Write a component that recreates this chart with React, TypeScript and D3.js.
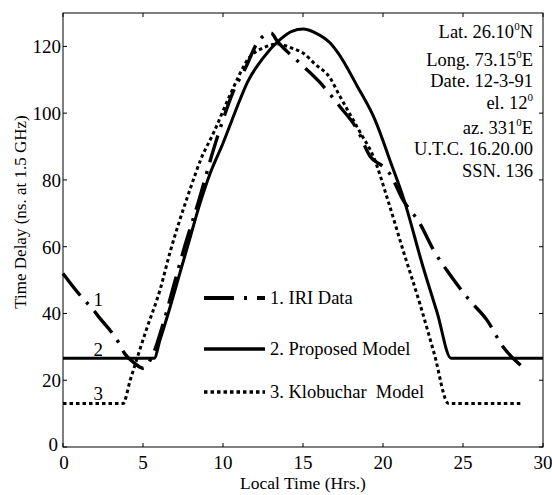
import * as d3 from "d3";

// hours, ns
const iriData: [number, number][] = [
  [0, 52], [1.15, 45], [1.8, 41.6], [2.3, 38.6], [3.45, 31.5], [3.85, 28], [4.5, 25], [5, 23.6],
  [5.6, 27.5], [6.2, 36], [6.9, 48], [7.6, 60], [8.5, 74], [9.4, 89], [10, 98], [10.6, 106],
  [11.4, 113.5], [12.2, 121.5], [13, 124], [13.4, 121.5], [14, 118.5], [14.8, 115], [16, 109.5],
  [17.3, 102], [18.4, 95], [19.2, 87], [20, 84], [20.4, 82], [21.25, 74], [22.3, 67], [23.1, 59.5],
  [24.2, 51.5], [25.4, 44], [26.5, 38], [27.5, 30], [28.6, 24.5],
];

const proposedData: [number, number][] = [
  [0, 26.6], [5.7, 26.6], [6.06, 32], [6.7, 42], [7.3, 52], [7.9, 62], [8.5, 72], [9.2, 82],
  [10, 91], [11.06, 104], [11.5, 109], [12.5, 116.5], [13.56, 122], [14.3, 124.5], [15, 125.2],
  [15.8, 124], [16.7, 121], [17.2, 118], [18.4, 108], [19.5, 98], [20.5, 85], [21.25, 75],
  [22.5, 54], [23.4, 40], [24.25, 26.6], [30, 26.6],
];

const klobucharData: [number, number][] = [
  [0, 13], [3.75, 13], [4.2, 20], [5.2, 35], [6.06, 47], [6.7, 58.5], [7.3, 68], [8, 78],
  [8.6, 86], [9.4, 94], [10.4, 105], [11.7, 117], [12.5, 119.5], [13.4, 120.7], [14.3, 119.5],
  [15, 118], [15.8, 114.5], [16.7, 110.5], [17.2, 106], [18.6, 94], [19.4, 87], [20.3, 74],
  [21.25, 59], [22.3, 43], [23.2, 28], [24.1, 13], [28.75, 13],
];

const xTicks = [0, 5, 10, 15, 20, 25, 30];
const yTicks = [0, 20, 40, 60, 80, 100, 120];

const legendLabels = ["1. IRI Data", "2. Proposed Model", "3. Klobuchar\u00A0 Model"];
const curveNumbers = ["1", "2", "3"];
const curveNumberPos: [number, number][] = [[2.2, 44], [2.2, 29], [2.2, 16]];

const infoLines = [
  ["Lat. 26.10", "0", "N"],
  ["Long. 73.15", "0", "E"],
  ["Date. 12-3-91", "", ""],
  ["el. 12", "0", ""],
  ["az. 331", "0", "E"],
  ["U.T.C. 16.20.00", "", ""],
  ["SSN. 136", "", ""],
];
const infoBaselines = [38, 66, 87, 109, 134, 155, 177];

const W = 552;
const H = 495;
const margin = { left: 63, right: 9, top: 13, bottom: 48 };
const font = "'Liberation Serif', 'Times New Roman', serif";

const styles = [
  { width: 3.4, dash: "28 9 3 9" },
  { width: 3, dash: null as string | null },
  { width: 3, dash: "3.5 3" },
];

export default function App() {
  const x = d3.scaleLinear().domain([0, 30]).range([margin.left, W - margin.right]);
  const y = d3.scaleLinear().domain([0, 130]).range([H - margin.bottom, margin.top]);

  const line = d3
    .line<[number, number]>()
    .x((d) => x(d[0]))
    .y((d) => y(d[1]))
    .curve(d3.curveMonotoneX);

  const series = [iriData, proposedData, klobucharData];
  const x0 = x(0), x1 = x(30), y0 = y(0), y1 = y(130);

  return (
    <svg
      width={W}
      height={H}
      style={{ position: "absolute", left: 0, top: 0, background: "#fff" }}
      fontFamily={font}
    >
      {/* frame */}
      <rect x={x0} y={y1} width={x1 - x0} height={y0 - y1} fill="none" stroke="#000" strokeWidth={1} />

      {/* ticks, inside on all sides */}
      {xTicks.map((t) => (
        <g key={"xt" + t}>
          <line x1={x(t)} x2={x(t)} y1={y0} y2={y0 - 4} stroke="#000" />
          <line x1={x(t)} x2={x(t)} y1={y1} y2={y1 + 4} stroke="#000" />
          <text x={x(t) + (t === 0 ? 1 : 0)} y={y0 + 22} textAnchor="middle" fontSize={19}>
            {t}
          </text>
        </g>
      ))}
      {yTicks.map((t) => (
        <g key={"yt" + t}>
          <line x1={x0} x2={x0 + 4} y1={y(t)} y2={y(t)} stroke="#000" />
          <line x1={x1} x2={x1 - 4} y1={y(t)} y2={y(t)} stroke="#000" />
          <text x={x0 - (t === 0 ? 5 : 2)} y={y(t) + (t === 0 ? 4 : 7)} textAnchor="end" fontSize={19}>
            {t}
          </text>
        </g>
      ))}

      {/* axis titles */}
      <text x={(x0 + x1) / 2} y={H - 6} textAnchor="middle" fontSize={17.5}>
        Local Time (Hrs.)
      </text>
      <text transform="translate(26,212) rotate(-90)" textAnchor="middle" fontSize={17}>
        Time Delay (ns. at 1.5 GHz)
      </text>

      {/* curves */}
      {series.map((s, i) => (
        <path
          key={"s" + i}
          d={line(s) || ""}
          fill="none"
          stroke="#000"
          strokeWidth={styles[i].width}
          strokeDasharray={styles[i].dash || undefined}
        />
      ))}

      {/* curve numbers */}
      {curveNumbers.map((n, i) => (
        <text
          key={"n" + i}
          x={x(curveNumberPos[i][0])}
          y={y(curveNumberPos[i][1]) + 6}
          textAnchor="middle"
          fontSize={19}
        >
          {n}
        </text>
      ))}

      {/* legend */}
      {legendLabels.map((lab, i) => {
        const ly = [298, 349, 392][i];
        return (
          <g key={"l" + i}>
            <line
              x1={204}
              x2={265}
              y1={ly}
              y2={ly}
              stroke="#000"
              strokeWidth={styles[i].width + 0.5}
              strokeDasharray={i === 0 ? "30 10 3 10" : styles[i].dash || undefined}
            />
            <text x={270} y={ly + 6} fontSize={18.5}>
              {lab}
            </text>
          </g>
        );
      })}

      {/* site info */}
      {infoLines.map((l, i) => (
        <text key={"i" + i} x={533} y={infoBaselines[i]} textAnchor="end" fontSize={18.5}>
          {l[0]}
          {l[1] && (
            <tspan fontSize={11} dy={-8}>
              {l[1]}
            </tspan>
          )}
          {l[2] && <tspan dy={l[1] ? 8 : 0}>{l[2]}</tspan>}
        </text>
      ))}
    </svg>
  );
}
